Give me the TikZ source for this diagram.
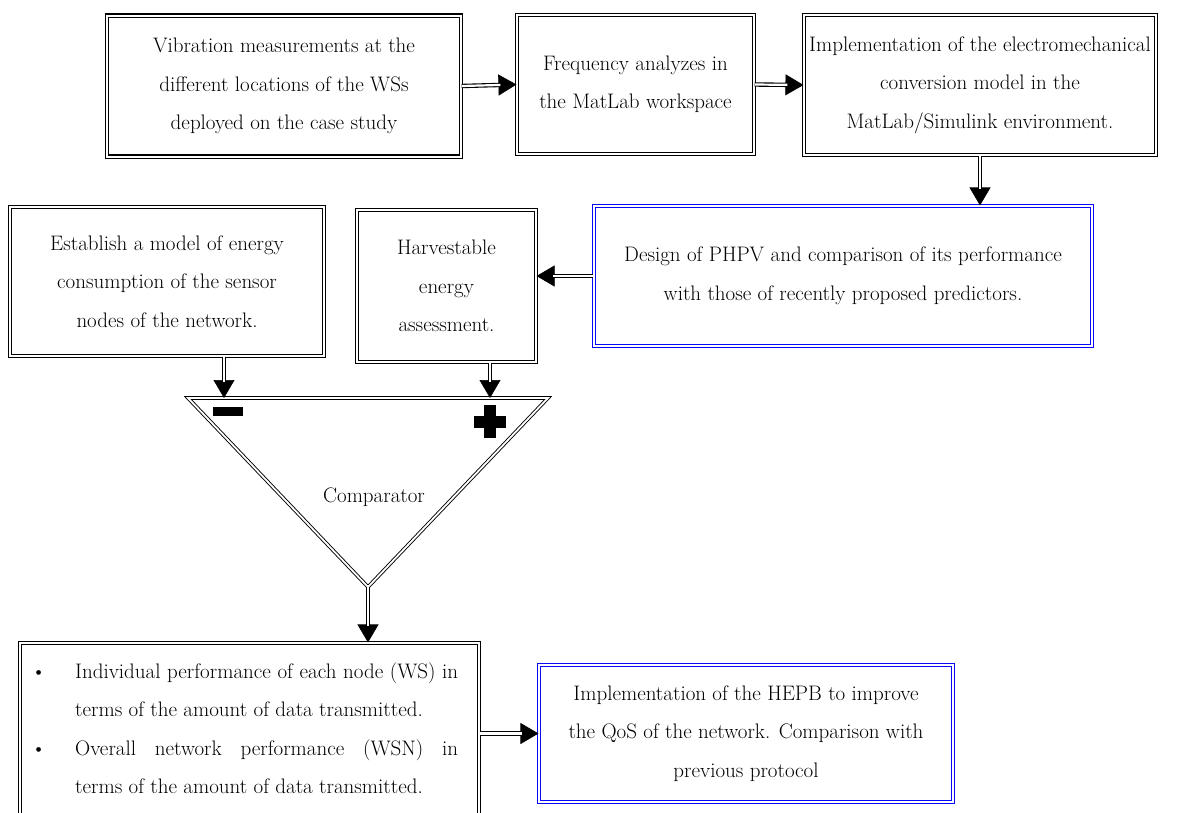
\documentclass[tikz,border=0pt]{standalone}
\usepackage{fontspec}
\usetikzlibrary{arrows.meta,calc}
\definecolor{bblue}{RGB}{10,10,240}
\tikzset{
  txt/.style={font=\fontsize{21}{38.5}\selectfont, align=center, inner sep=0pt},
  dbox/.style={txt, draw=black, double=white, line width=1.1pt, double distance=2pt},
  bbox/.style={txt, draw=bblue, double=white, line width=1.1pt, double distance=2pt},
  tipline/.style={line width=0.6pt, -{Triangle[length=18pt,width=21pt]}},
  shaft/.style={draw=black, double=white, line width=1.1pt, double distance=2.2pt, shorten >=16pt},
  dline/.style={draw=black, double=white, line width=0.9pt, double distance=1.8pt, line join=miter},
  sign/.style={fill=black, draw=none}
}
\newcommand{\darrow}[2]{%
  \draw[tipline] #1 -- #2;
  \draw[shaft] #1 -- #2;}
\begin{document}
\begin{tikzpicture}[x=1pt, y=-1pt]
\useasboundingbox (0,0) rectangle (1200,812);
\clip (0,0) rectangle (1200,812);
% top row
\node[dbox, minimum width=354pt, minimum height=141pt] (b1) at (284,86)
  {Vibration measurements at the\\different locations of the WSs\\deployed on the case study};
\node[dbox, minimum width=237pt, minimum height=139pt] (b2) at (635.5,84.5)
  {Frequency analyzes in\\the MatLab workspace};
\node[dbox, minimum width=352pt, minimum height=140pt] (b3) at (980,85)
  {Implementation of the electromechanical\\conversion model in the\\MatLab/Simulink environment.};
% second row
\node[bbox, minimum width=498pt, minimum height=140pt] (bl1) at (843,276)
  {Design of PHPV and comparison of its performance\\with those of recently proposed predictors.};
\node[dbox, minimum width=314pt, minimum height=149pt] (est) at (167,281.5)
  {Establish a model of energy\\consumption of the sensor\\nodes of the network.};
\node[dbox, minimum width=179pt, minimum height=152pt] (harv) at (446.5,286)
  {Harvestable\\energy\\assessment.};
% comparator
\coordinate (tl) at (188,398);
\coordinate (tr) at (548,398);
\coordinate (ap) at (368,587);
\draw[dline] (tl) -- (tr) -- (ap) -- cycle;
\node[txt] (comp) at (374,497) {Comparator};
\coordinate (tm) at (224,398);
\coordinate (tp) at (490,398);
\fill[sign] (213,407) rectangle (243,416);
\fill[sign] (474,416) rectangle (506,428);
\fill[sign] (484,405) rectangle (496,438);
% bottom row
\node[dbox, minimum width=459pt, minimum height=177pt] (res) at (249.5,731.5) {};
\node[txt, anchor=north west, align=left] (restext) at (31,651)
  {\begin{tabular}{@{}l@{}l@{}}
   \makebox[44pt][l]{\textbullet} & \makebox[383pt][s]{Individual performance of each node (WS) in}\\
   & terms of the amount of data transmitted.\\
   \makebox[44pt][l]{\textbullet} & \makebox[383pt][s]{Overall network performance (WSN) in}\\
   & terms of the amount of data transmitted.
   \end{tabular}};
\node[bbox, minimum width=414pt, minimum height=137pt] (bl2) at (746,733.5)
  {Implementation of the HEPB to improve\\the QoS of the network. Comparison with\\previous protocol};
% connectors
\darrow{(b1.east)}{(b2.west)}
\darrow{(b2.east)}{(b3.west)}
\darrow{(b3.south)}{(b3.south |- bl1.north)}
\darrow{(bl1.west)}{(bl1.west -| harv.east)}
\darrow{(tm |- est.south)}{(tm)}
\darrow{(tp |- harv.south)}{(tp)}
\darrow{(ap)}{(ap |- res.north)}
\darrow{(res.east |- bl2.west)}{(bl2.west)}
\end{tikzpicture}
\end{document}
